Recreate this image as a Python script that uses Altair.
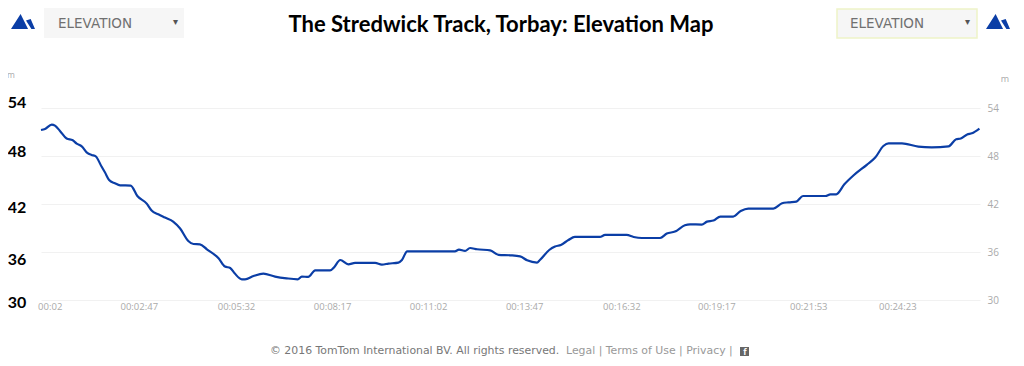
import altair as alt
import pandas as pd

seconds = [-3,3.9,15.4,21,29.6,41,51.5,58.3,67,76.5,84,91,101,107,114,124,133,151,162.5,178.6,187,198.5,210,224,236,250,259,270,282,302,313,322,330,342,347.5,362,379,
           399,419,438,445,456,468,493.5,500,511,525,536.5,571,582.5,594,611,617,626,708,715,725.5,734,746,768.5,783,
           803,820,832,849,854,870,880,890,903,914,957,966,1003,1015,1029,1060.5,1072,1086,1103,1112,1132,1141,1152,1164,
           1186,1199,1212,1255,1270,1281,1294.5,1306,1344.5,1353,1363,1377,1393,1416,1430,1444,1453,1476,1504,1527,1556,1569,1577,1588,1596,1609]
elevation = [51.25,51.38,51.93,51.8,51.13,50.18,49.96,49.55,49.21,48.38,48.13,47.96,46.68,45.93,45,44.59,44.34,44.3,43,42.05,41.18,40.71,40.3,39.8,38.93,37.38,37,36.96,36.34,35.21,34.18,34,33.3,32.59,32.59,33,33.3,
             32.93,32.71,32.59,32.93,32.88,33.71,33.71,34.05,35,34.46,34.63,34.63,34.43,34.55,34.68,35,36.09,36.09,36.3,36.13,36.5,36.34,36.21,35.65,
             35.59,35.46,34.96,34.68,35,36.25,36.68,36.88,37.5,37.88,37.88,38.13,38.13,37.88,37.75,37.75,38.3,38.55,39.34,39.46,39.43,39.8,39.93,40.43,
             40.43,41.13,41.43,41.43,42.09,42.21,42.3,43,43,43.21,43.21,44.46,45.59,46.93,47.8,49.25,49.59,49.59,49.18,49.09,49.21,50.09,50.18,50.68,50.84,51.43]
tick_seconds = [12,165,332,497,662,827,994,1157,1315,1468]
tick_labels = ["00:02","00:02:47","00:05:32","00:08:17","00:11:02","00:13:47","00:16:32","00:19:17","00:21:53","00:24:23"]
right_ticks = [30,36,42,48,54]
left_labels = ["54","48","42","36","30"]
left_label_y = [103,152,208,260,303]

OX, OY = 41, 108
df = pd.DataFrame({"s": seconds, "m": elevation})
blank = {"values": [{}]}
ICON = "M-1 .625L-.2 -.625L.42 .625ZM.25 -.08L.64 -.2L1 .625L.7 .625Z"
BLUE = "#0b3ea6"

def txt(s, x, y, size=11, color="#888888", font="Open Sans", weight="normal", align="left"):
    return alt.Chart(blank).mark_text(font=font, fontSize=size, color=color, fontWeight=weight, align=align, baseline="middle").encode(
        x=alt.value(x - OX), y=alt.value(y - OY), text=alt.value(s))

def box(x0, x1, y0, y1, fill, stroke=None):
    kw = {"stroke": stroke, "strokeWidth": 1.5} if stroke else {}
    return alt.Chart(blank).mark_rect(fill=fill, **kw).encode(
        x=alt.value(x0 - OX), x2=alt.value(x1 - OX), y=alt.value(y0 - OY), y2=alt.value(y1 - OY))

def icon(x, y):
    return alt.Chart(blank).mark_point(shape=ICON, size=576, filled=True, fill=BLUE, opacity=1, strokeWidth=0).encode(
        x=alt.value(x - OX), y=alt.value(y - OY))

index_expr = "[" + ",".join(repr(t) for t in tick_labels) + "][indexof([" + ",".join(str(v) for v in tick_seconds) + "],datum.value)]"

line = alt.Chart(df).mark_line(color=BLUE, strokeWidth=2.2, interpolate="monotone").encode(
    x=alt.X("s:Q", scale=alt.Scale(domain=[-3, 1610], nice=False, zero=False), axis=alt.Axis(
        values=tick_seconds, labelExpr=index_expr, grid=False, domain=False, ticks=False, title=None,
        labelColor="#aaaaaa", labelFont="Open Sans", labelFontSize=9.5, labelPadding=1, labelOverlap=False, labelFlush=False)),
    y=alt.Y("m:Q", scale=alt.Scale(domain=[30, 54], nice=False, zero=False), axis=alt.Axis(
        orient="right", values=right_ticks, grid=True, gridColor="#f1f1f1", gridWidth=1, domain=False, ticks=False, title=None,
        labelColor="#aaaaaa", labelFont="Open Sans", labelFontSize=10, labelPadding=7)),
)

layers = [line]
layers += [box(44, 184, 8, 38, "#f6f6f6"), box(837, 977, 9, 38, "#f6f6f6", "#eef3c8")]
layers += [icon(23, 21.5), icon(998, 21.5)]
layers += [txt("ELEVATION", 58, 24, 13.5, "#707070", font="DejaVu Sans"), txt("ELEVATION", 850, 24, 13.5, "#707070", font="DejaVu Sans"),
           txt("▾", 175, 22, 10, "#555555", align="center"), txt("▾", 967, 22, 10, "#555555", align="center")]
layers += [txt("The Stredwick Track, Torbay: Elevation Map", 501, 25, 22, "#000000", font="Lato", weight="bold", align="center")]
layers += [txt("m", 11, 75, 8.5, "#aaaaaa", align="center"), txt("m", 1005, 79, 9, "#aaaaaa", align="center")]
layers += [txt(l, 17, y, 16, "#000000", font="Lato", weight="bold", align="center") for l, y in zip(left_labels, left_label_y)]
layers += [txt("© 2016 TomTom International BV. All rights reserved.", 270, 351, 10.9, "#777777", font="DejaVu Sans"),
           txt("Legal | Terms of Use | Privacy |", 566, 351, 10.9, "#999999", font="DejaVu Sans"),
           box(740, 749, 347, 356, "#666666"),
           txt("f", 745, 352, 8.5, "#ffffff", weight="bold", align="center")]

chart = alt.layer(*layers).properties(
    width=939, height=192, background="white",
    autosize=alt.AutoSizeParams(type="none"),
    padding={"left": 33, "top": 100, "right": 36, "bottom": 58},
).configure_view(stroke=None)

chart.save("out.html", embed_options={"renderer": "svg", "actions": False})
